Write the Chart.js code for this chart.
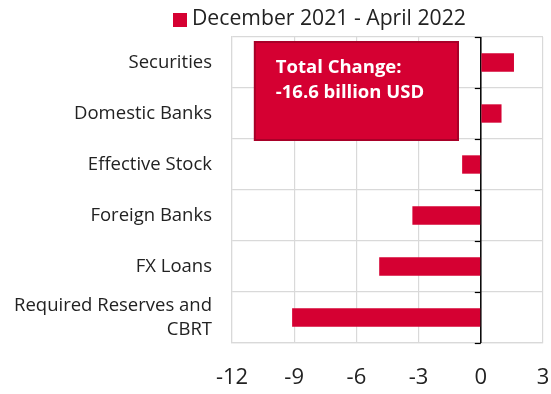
<!DOCTYPE html>
<html>
<head>
<meta charset="utf-8">
<script src="https://cdn.jsdelivr.net/npm/chart.js@4"></script>
<style>
  html, body { margin: 0; padding: 0; background: #ffffff; }
  #wrap { width: 551px; height: 394px; }
</style>
</head>
<body>
<div id="wrap"><canvas id="c" width="551" height="394"></canvas></div>
<script>
const categories = ["Securities", "Domestic Banks", "Effective Stock", "Foreign Banks", "FX Loans", ["Required Reserves and", "CBRT"]];
const seriesName = "December 2021 - April 2022";
const values = [1.6, 1.0, -0.9, -3.3, -4.9, -9.1];
const xTicks = [-12, -9, -6, -3, 0, 3];
const annotationLines = ["Total Change:", "-16.6 billion USD"];

const RED = "#d50032";
const FONT = "'Open Sans', 'DejaVu Sans', sans-serif";

const decorPlugin = {
  id: "decor",
  beforeDatasetsDraw(chart) {
    const ctx = chart.ctx;
    const x = chart.scales.x, y = chart.scales.y;
    const x0 = x.getPixelForValue(0);
    ctx.save();
    ctx.strokeStyle = "#000000";
    ctx.lineWidth = 1.5;
    ctx.beginPath();
    ctx.moveTo(x0, y.top);
    ctx.lineTo(x0, y.bottom);
    ctx.stroke();
    ctx.lineWidth = 1.2;
    const n = categories.length;
    const step = (y.bottom - y.top) / n;
    for (let i = 0; i <= n; i++) {
      const yy = Math.round(y.top + i * step) + 0.5;
      ctx.beginPath();
      ctx.moveTo(x0 - 6, yy);
      ctx.lineTo(x0, yy);
      ctx.stroke();
    }
    ctx.restore();
  },
  afterDraw(chart) {
    const ctx = chart.ctx;
    const x = chart.scales.x, y = chart.scales.y;
    const n = categories.length;
    const step = (y.bottom - y.top) / n;
    // annotation box
    const bx1 = x.getPixelForValue(-10.9), bx2 = x.getPixelForValue(-1.1);
    const by1 = y.top + 5, by2 = y.top + 2 * step + 1;
    ctx.save();
    ctx.fillStyle = RED;
    ctx.fillRect(bx1, by1, bx2 - bx1, by2 - by1);
    ctx.strokeStyle = "#a80028";
    ctx.lineWidth = 2;
    ctx.strokeRect(bx1, by1, bx2 - bx1, by2 - by1);
    ctx.fillStyle = "#ffffff";
    ctx.font = "bold 18.5px " + FONT;
    ctx.textBaseline = "alphabetic";
    ctx.textAlign = "left";
    ctx.fillText(annotationLines[0], bx1 + 21, by1 + 31);
    ctx.fillText(annotationLines[1], bx1 + 21, by1 + 56);
    // legend
    ctx.fillStyle = RED;
    ctx.fillRect(173, 13, 14, 14);
    ctx.fillStyle = "#222222";
    ctx.font = "21.2px " + FONT;
    ctx.textBaseline = "middle";
    ctx.fillText(seriesName, 192, 19);
    ctx.restore();
  }
};

new Chart(document.getElementById("c"), {
  type: "bar",
  data: {
    labels: categories,
    datasets: [{
      label: seriesName,
      data: values,
      backgroundColor: RED,
      borderWidth: 0,
      barPercentage: 0.36,
      categoryPercentage: 1.0
    }]
  },
  options: {
    indexAxis: "y",
    responsive: false,
    animation: false,
    layout: { padding: { top: 37, right: 8, left: 0, bottom: 0 } },
    plugins: { legend: { display: false }, tooltip: { enabled: false } },
    scales: {
      x: {
        min: -12, max: 3,
        afterBuildTicks(scale) { scale.ticks = xTicks.map(v => ({ value: v })); },
        afterFit(scale) { scale.height = 51; scale.paddingLeft = 0; scale.paddingRight = 0; },
        grid: { color: "#d9d9d9", lineWidth: 1.2, drawTicks: false },
        border: { color: "#d9d9d9", width: 1.2 },
        ticks: { color: "#222222", font: { family: FONT, size: 22 }, padding: 22 }
      },
      y: {
        afterFit(scale) { scale.width = 232; scale.paddingTop = 0; scale.paddingBottom = 0; },
        grid: { color: "#d9d9d9", lineWidth: 1.2, drawTicks: false, offset: true },
        border: { color: "#d9d9d9", width: 1.2 },
        ticks: { color: "#222222", font: { family: FONT, size: 18.5, lineHeight: 1.27 }, padding: 20 }
      }
    }
  },
  plugins: [decorPlugin]
});
</script>
</body>
</html>
